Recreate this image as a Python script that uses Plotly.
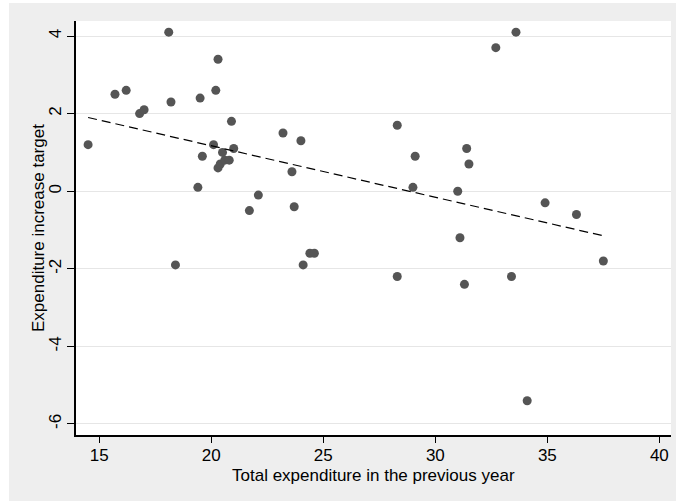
import plotly.graph_objects as go

# Data
prev_exp = [14.5, 15.7, 16.2, 16.8, 17.0, 18.1, 18.2, 18.4, 19.4, 19.5, 19.6,
            20.1, 20.2, 20.3, 20.3, 20.4, 20.5, 20.6, 20.8, 20.9, 21.0, 21.7,
            22.1, 23.2, 23.6, 23.7, 24.0, 24.1, 24.4, 24.6, 28.3, 28.3, 29.0,
            29.1, 31.0, 31.1, 31.3, 31.4, 31.5, 32.7, 33.4, 33.6, 34.1, 34.9,
            36.3, 37.5]
inc_target = [1.2, 2.5, 2.6, 2.0, 2.1, 4.1, 2.3, -1.9, 0.1, 2.4, 0.9,
              1.2, 2.6, 3.4, 0.6, 0.7, 1.0, 0.8, 0.8, 1.8, 1.1, -0.5,
              -0.1, 1.5, 0.5, -0.4, 1.3, -1.9, -1.6, -1.6, 1.7, -2.2, 0.1,
              0.9, 0.0, -1.2, -2.4, 1.1, 0.7, 3.7, -2.2, 4.1, -5.4, -0.3,
              -0.6, -1.8]

# Fitted line endpoints
fit_x = [14.5, 37.5]
fit_y = [1.9, -1.15]

x_ticks = [15, 20, 25, 30, 35, 40]
y_ticks = [-6, -4, -2, 0, 2, 4]
y_tick_labels = ["-6", "-4", "-2", "0", "2", "4"]

x_title = "Total expenditure in the previous year"
y_title = "Expenditure increase target"

FONT = "Liberation Sans, Arial, sans-serif"
BG = "#eeeeee"

fig = go.Figure()
fig.add_trace(go.Scatter(
    x=prev_exp, y=inc_target, mode="markers",
    marker=dict(color="#555555", size=9, line=dict(width=0)),
    showlegend=False, hoverinfo="x+y"))
fig.add_trace(go.Scatter(
    x=fit_x, y=fit_y, mode="lines",
    line=dict(color="black", width=1.2, dash="9px,5px"),
    showlegend=False))

fig.update_layout(
    width=676, height=501,
    margin=dict(l=76, r=5, t=21, b=66),
    paper_bgcolor=BG, plot_bgcolor="white",
    font=dict(family=FONT, size=17, color="black"),
    xaxis=dict(
        range=[13.96, 40.52], tickvals=x_ticks, ticks="outside", ticklen=6,
        ticklabelstandoff=-2,
        tickcolor="black", tickwidth=1.2, showgrid=False, zeroline=False,
        showline=True, linecolor="black", linewidth=1.5, automargin=False,
        tickfont=dict(family=FONT, size=17)),
    yaxis=dict(
        range=[-6.284, 4.387], tickvals=y_ticks, ticktext=y_tick_labels,
        ticks="outside", ticklen=7, ticklabelstandoff=-1,
        tickcolor="black", tickwidth=1.2, tickangle=-90,
        showgrid=True, gridcolor="#e6e6e6", gridwidth=1.2, zeroline=False,
        showline=True, linecolor="black", linewidth=1.5, automargin=False,
        tickfont=dict(family=FONT, size=17)),
    annotations=[
        dict(text=x_title, xref="paper", yref="paper", x=0.5,
             y=(435 - 475) / 414, xanchor="center", yanchor="middle",
             showarrow=False, font=dict(family=FONT, size=17)),
        dict(text=y_title, xref="paper", yref="paper", x=(38 - 76) / 595,
             y=0.5, xanchor="center", yanchor="middle", textangle=-90,
             showarrow=False, font=dict(family=FONT, size=17)),
    ],
    shapes=[
        dict(type="rect", xref="paper", yref="paper", x0=-0.2, x1=(9 - 76) / 595,
             y0=-0.2, y1=1.1, fillcolor="white", line=dict(width=0), layer="below"),
        dict(type="rect", xref="paper", yref="paper", x0=-0.2, x1=1.1,
             y0=(435 - 3) / 414, y1=1.1, fillcolor="white", line=dict(width=0),
             layer="below"),
    ],
)

fig.write_html("out.html", config={"displayModeBar": False},
               post_script="document.body.style.margin='0';document.body.style.overflow='hidden';")
